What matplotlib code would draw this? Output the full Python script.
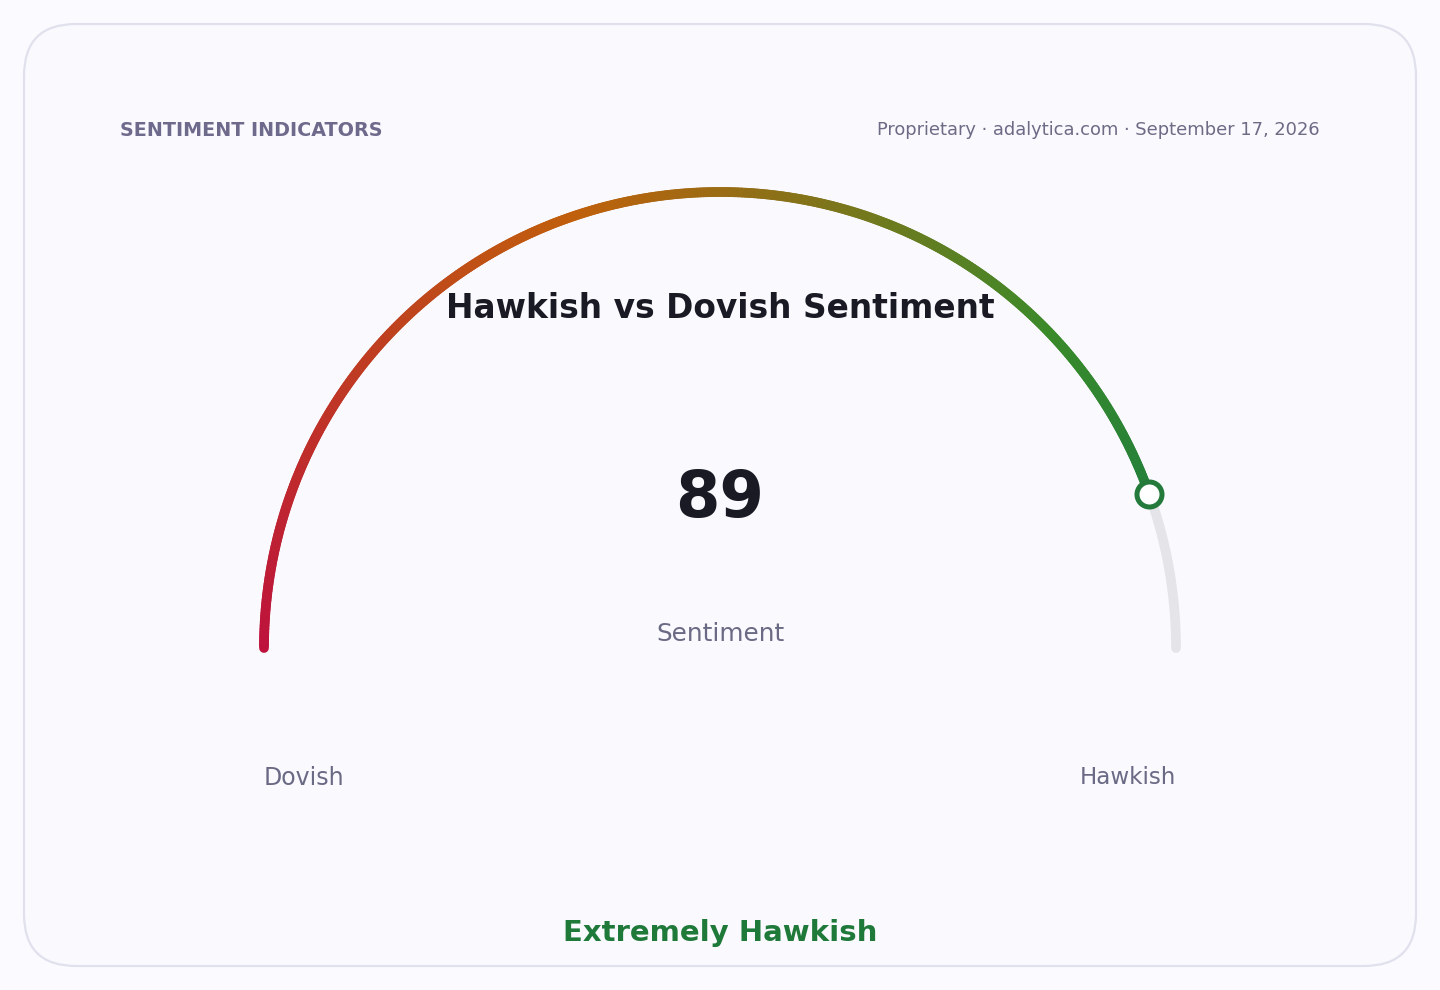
import numpy as np
import matplotlib
matplotlib.use("Agg")
import matplotlib.pyplot as plt
from matplotlib.collections import LineCollection
from matplotlib.colors import LinearSegmentedColormap
from matplotlib.patches import FancyBboxPatch

# data
value = 89
min_value = 0
max_value = 100
title = "Hawkish vs Dovish Sentiment"
value_label = "Sentiment"
left_label = "Dovish"
right_label = "Hawkish"
status = "Extremely Hawkish"
header_left = "SENTIMENT INDICATORS"
header_right = "Proprietary \u00b7 adalytica.com \u00b7 September 17, 2026"

grad_stops = [0, 40, 76, 89]
grad_colors = ["#be123c", "#c0600c", "#3a8a2a", "#24803a"]

W, H = 1440, 990
fig = plt.figure(figsize=(W / 100, H / 100), dpi=100)
fig.patch.set_facecolor("#fafaff")
ax = fig.add_axes([0, 0, 1, 1])
ax.set_xlim(0, W)
ax.set_ylim(H, 0)
ax.axis("off")

card = FancyBboxPatch((24, 24), 1392, 942, boxstyle="round,pad=0,rounding_size=52",
                      facecolor="#f9f9fe", edgecolor="#e1e1ee", linewidth=1.6)
ax.add_patch(card)

cx, cy, r = 720, 648, 456


def pt(v):
    a = np.pi * (1 - (v - min_value) / (max_value - min_value))
    return cx + r * np.cos(a), cy - r * np.sin(a)


# background track
vs = np.linspace(value, max_value, 100)
xs, ys = pt(vs)
ax.plot(xs, ys, color="#e4e4e9", lw=7, solid_capstyle="round", zorder=2)

# gradient arc
cmap = LinearSegmentedColormap.from_list(
    "g", [(s / value, c) for s, c in zip(grad_stops, grad_colors)])
vs = np.linspace(min_value, value, 400)
xs, ys = pt(vs)
pts = np.column_stack([xs, ys]).reshape(-1, 1, 2)
segs = np.concatenate([pts[:-1], pts[1:]], axis=1)
lc = LineCollection(segs, colors=cmap(vs[:-1] / value), linewidths=7,
                    capstyle="round", zorder=3)
ax.add_collection(lc)

mx, my = pt(value)
ax.plot(mx, my, "o", ms=18, mfc="#ffffff", mec="#237a3b", mew=3.6, zorder=5)

ax.text(120, 130, header_left, fontsize=13.8, fontweight="bold", color="#6e6a8c",
        ha="left", va="center")
ax.text(1320, 130, header_right, fontsize=12.9, color="#6d6b85", ha="right", va="center")
ax.text(720, 309, title, fontsize=23.7, fontweight="bold", color="#1a1a24",
        ha="center", va="center")
ax.text(720, 499, str(value), fontsize=46, fontweight="bold", color="#1a1a24",
        ha="center", va="center")
ax.text(720, 634, value_label, fontsize=17.8, color="#6b6a85", ha="center", va="center")
ax.text(264, 778, left_label, fontsize=17, color="#6b6a85", ha="left", va="center")
ax.text(1176, 778, right_label, fontsize=16.6, color="#6b6a85", ha="right", va="center")
ax.text(720, 933, status, fontsize=21, fontweight="bold", color="#1f7a3a",
        ha="center", va="center")

fig.savefig("out.png", dpi=100, facecolor=fig.get_facecolor())
